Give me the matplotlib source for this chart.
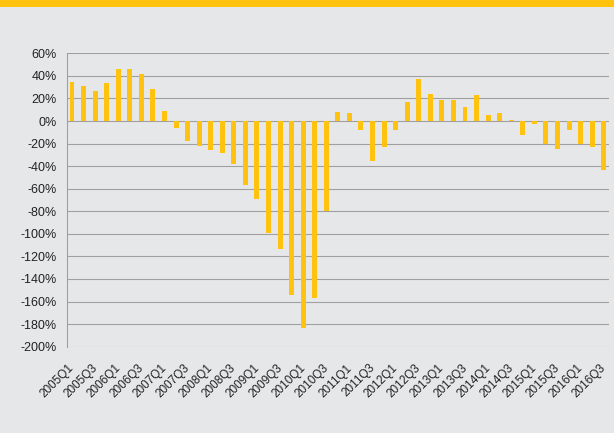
import matplotlib
matplotlib.use('Agg')
import matplotlib.pyplot as plt
from matplotlib.patches import Rectangle

# Quarterly values (%), 2005Q1 .. 2016Q3
quarters = [f'{y}Q{q}' for y in range(2005, 2017) for q in range(1, 5)][:47]
values = [35, 31, 27, 34, 46, 46, 42, 28, 9, -6,
          -18, -22, -26, -28, -38, -57, -69, -99, -113, -154,
          -183, -157, -80, 8, 7, -8, -35, -23, -8, 17,
          37, 24, 19, 19, 12, 23, 5, 7, 1, -12,
          -3, -20, -25, -8, -20, -23, -43]
y_ticks = list(range(-200, 61, 20))

bg = '#e6e7e8'
yellow = '#ffc20e'

fig = plt.figure(figsize=(6.14, 4.33), dpi=100, facecolor=bg)
# yellow band across the top
fig.patches.append(Rectangle((0, 1 - 7 / 433), 1, 7 / 433, transform=fig.transFigure,
                             facecolor=yellow, edgecolor='none'))

ax = fig.add_axes([0.1086, 0.1993, 0.9919 - 0.1086, 0.8769 - 0.1993])
ax.set_facecolor(bg)

x = list(range(len(values)))
ax.bar(x, values, width=0.43, color=yellow, zorder=3)

ax.set_ylim(-200, 60)
ax.set_xlim(-0.46, len(values) - 1 + 0.46)
ax.set_yticks(y_ticks)
ax.set_yticklabels([f'{v}%' for v in y_ticks], fontsize=9, family='Liberation Sans', color='#222222')
ax.yaxis.grid(True, color='#a0a0a0', linewidth=0.8, zorder=0)
ax.set_axisbelow(True)

# labels sit slightly right of their bar (no tick marks drawn)
ax.set_xticks([i + 0.4 for i in x[::2]])
ax.set_xticklabels(quarters[::2], rotation=45, ha='right', va='top',
                   fontsize=8.5, family='Liberation Sans', color='#222222')

ax.tick_params(axis='x', length=0, pad=11)
ax.tick_params(axis='y', length=0, pad=7)

for side in ['top', 'right', 'bottom']:
    ax.spines[side].set_visible(False)
ax.spines['left'].set_color('#a0a0a0')
ax.spines['left'].set_linewidth(0.8)

fig.savefig('out.png', dpi=100, facecolor=bg)
